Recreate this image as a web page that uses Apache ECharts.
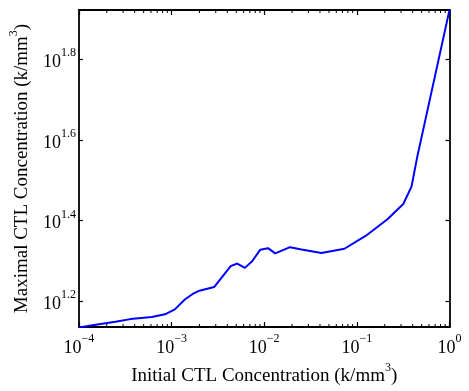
<!DOCTYPE html>
<html>
<head>
<meta charset="utf-8">
<script src="https://cdn.jsdelivr.net/npm/echarts@6/dist/echarts.min.js"></script>
<style>
html,body{margin:0;padding:0;background:#fff;}
#chart{width:469px;height:391px;}
</style>
</head>
<body>
<div id="chart"></div>
<script>
// Initial CTL concentration (k/mm^3)
const initialCTL = [0.0001, 0.000152, 0.000248, 0.00036, 0.000612, 0.000849, 0.001086, 0.00139,
  0.00169, 0.0020, 0.00288, 0.00435, 0.00512, 0.00619, 0.00741, 0.00908, 0.0110, 0.01315,
  0.0190, 0.02535, 0.0415, 0.0735, 0.1253, 0.2138, 0.317, 0.389, 0.448, 1.0];
// Maximal CTL concentration (k/mm^3)
const maximalCTL = [13.65, 13.86, 14.09, 14.31, 14.49, 14.71, 15.13, 16.0,
  16.52, 16.83, 17.18, 19.36, 19.65, 19.17, 19.91, 21.27, 21.45, 20.82,
  21.57, 21.29, 20.86, 21.38, 23.03, 25.29, 27.6, 30.48, 36.06, 83.56];
// Axis extents and ticks (in k/mm^3)
const xMin = 1e-4, xMax = 1;
const yMin = 13.68, yMax = 83.5;
const yTickExponents = [1.2, 1.4, 1.6, 1.8];
const minorMantissas = [2, 3, 4, 5, 6, 7, 8, 9];

const FONT = 'Liberation Serif';
const lg = Math.log10;
const x0 = lg(xMin);
const xPos = x => lg(x) - x0;
const xMinorTicks = [];
for (let e = -4; e < 0; e++) for (const m of minorMantissas) xMinorTicks.push(xPos(m * Math.pow(10, e)));

const richLab = {
  b: {fontFamily: FONT, fontSize: 18, color: '#000', verticalAlign: 'bottom', lineHeight: 24},
  s: {fontFamily: FONT, fontSize: 12, color: '#000', verticalAlign: 'top'}
};
const richName = {
  t: {fontFamily: FONT, fontSize: 19, color: '#000', verticalAlign: 'bottom', lineHeight: 24},
  s: {fontFamily: FONT, fontSize: 12, color: '#000', verticalAlign: 'top'}
};
const axLine = () => ({show: true, onZero: false, lineStyle: {color: '#000', width: 1.8}});
const expLabel = v => {
  const e = Math.round(v + x0);
  return '{b|10}{s|' + (e < 0 ? '\u2212' + (-e) : String(e)) + '}';
};

const chart = echarts.init(document.getElementById('chart'), null, {renderer: 'canvas'});
chart.setOption({
  animation: false,
  backgroundColor: '#fff',
  grid: {left: 75, right: 19.5, top: 10, bottom: 58},
  xAxis: [
    {type: 'value', position: 'bottom', min: 0, max: xPos(xMax), interval: 1,
     axisLine: axLine(), splitLine: {show: false},
     axisTick: {show: true, inside: true, length: 5, lineStyle: {color: '#000', width: 1.2}},
     minorTick: {show: false},
     axisLabel: {show: true, margin: 6, showMinLabel: true, showMaxLabel: true,
       formatter: expLabel, rich: richLab},
     name: '{t|Initial CTL Concentration (k/mm}{s|3}{t|)}', nameLocation: 'middle', nameGap: 35,
     nameTextStyle: {rich: richName}},
    {type: 'value', position: 'top', min: 0, max: xPos(xMax), interval: 1,
     axisLine: axLine(), splitLine: {show: false}, axisLabel: {show: false},
     axisTick: {show: true, inside: true, length: 5, lineStyle: {color: '#000', width: 1.2}}}
  ],
  yAxis: [
    {type: 'value', position: 'left', min: lg(yMin), max: lg(yMax),
     axisLine: axLine(), splitLine: {show: false},
     axisTick: {show: true, inside: true, length: 4, customValues: yTickExponents, lineStyle: {color: '#000', width: 1.2}},
     axisLabel: {show: true, margin: 3, customValues: yTickExponents,
       formatter: v => '{b|10}{s|' + v.toFixed(1) + '}', rich: richLab},
     name: '{t|Maximal CTL Concentration (k/mm}{s|3}{t|)}', nameLocation: 'middle', nameGap: 37,
     nameRotate: 90, nameTextStyle: {rich: richName}},
    {type: 'value', position: 'right', min: lg(yMin), max: lg(yMax),
     axisLine: axLine(), splitLine: {show: false}, axisLabel: {show: false},
     axisTick: {show: true, inside: true, length: 4, customValues: yTickExponents, lineStyle: {color: '#000', width: 1.2}}}
  ],
  series: [{
    type: 'line', xAxisIndex: 0, yAxisIndex: 0, showSymbol: false, smooth: false,
    lineStyle: {color: '#0000ff', width: 2}, itemStyle: {color: '#0000ff'},
    data: initialCTL.map((x, i) => [xPos(x), lg(maximalCTL[i])])
  }, {
    // minor x ticks (2..9 x 10^n) drawn as short marks on the top and bottom frame edges
    type: 'custom', xAxisIndex: 0, yAxisIndex: 0, silent: true, clip: false,
    data: xMinorTicks.map(v => [v]),
    renderItem: (params, api) => {
      const p = api.coord([api.value(0), lg(yMin)]);
      const q = api.coord([api.value(0), lg(yMax)]);
      const st = {stroke: '#000', lineWidth: 1};
      return {type: 'group', children: [
        {type: 'line', shape: {x1: p[0], y1: p[1], x2: p[0], y2: p[1] - 3}, style: st},
        {type: 'line', shape: {x1: q[0], y1: q[1], x2: q[0], y2: q[1] + 3}, style: st}
      ]};
    }
  }]
});
</script>
</body>
</html>
